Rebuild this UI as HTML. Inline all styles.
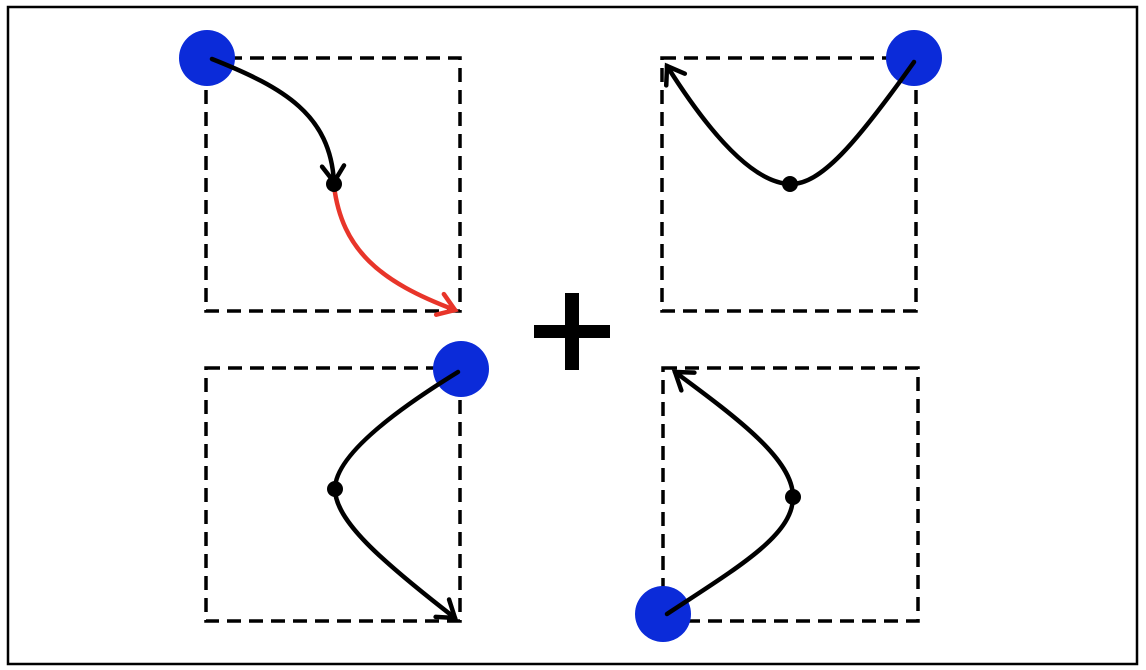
<!DOCTYPE html>
<html><head><meta charset="utf-8"><style>
html,body{margin:0;padding:0;background:#fff;}
svg{display:block;}
</style></head><body>
<svg width="1146" height="670" viewBox="0 0 1146 670">
<defs>
<marker id="ab" markerWidth="30" markerHeight="30" refX="0" refY="0" viewBox="-20 -15 30 30" orient="auto" markerUnits="userSpaceOnUse">
<path d="M-16,-11 L0,0 L-16,11" fill="none" stroke="#000" stroke-width="4.5" stroke-linecap="round"/>
</marker>
<marker id="ar" markerWidth="30" markerHeight="30" refX="0" refY="0" viewBox="-20 -15 30 30" orient="auto" markerUnits="userSpaceOnUse">
<path d="M-16,-11 L0,0 L-16,11" fill="none" stroke="#e8352a" stroke-width="4.5" stroke-linecap="round"/>
</marker>
</defs>
<rect x="8" y="7" width="1129" height="657" fill="#fff" stroke="#000" stroke-width="2.5"/>
<g fill="none" stroke="#000" stroke-width="3.5" stroke-dasharray="14,8">
<rect x="206" y="58" width="254" height="253"/>
<rect x="662" y="58" width="254" height="253"/>
<rect x="206" y="368" width="254" height="253"/>
<rect x="663" y="368" width="255" height="253"/>
</g>
<g fill="#0b2bd9">
<circle cx="207" cy="58" r="28"/>
<circle cx="914" cy="58" r="28"/>
<circle cx="461" cy="369" r="28"/>
<circle cx="663" cy="614" r="28"/>
</g>
<g fill="none" stroke-width="4.5" stroke-linecap="round">
<path d="M212,59 C285,88 330,115 334,182" stroke="#000" marker-end="url(#ab)"/>
<path d="M334,186 C342,250 380,282 455,310" stroke="#e8352a" marker-end="url(#ar)"/>
<path d="M914,62 C855,145 820,185 790,184 C760,183 720,150 667,66" stroke="#000" marker-end="url(#ab)"/>
<path d="M458,372 C380,420 335,460 335,489 C335,520 380,560 455,618" stroke="#000" marker-end="url(#ab)"/>
<path d="M667,614 C740,566 793,535 793,497 C793,460 740,420 675,372" stroke="#000" marker-end="url(#ab)"/>
</g>
<g fill="#000">
<circle cx="334" cy="184" r="8"/>
<circle cx="790" cy="184" r="8"/>
<circle cx="335" cy="489" r="8"/>
<circle cx="793" cy="497" r="8"/>
</g>
<g fill="#000">
<rect x="565" y="293" width="14" height="77"/>
<rect x="534" y="325" width="76" height="13"/>
</g>
</svg>
</body></html>
